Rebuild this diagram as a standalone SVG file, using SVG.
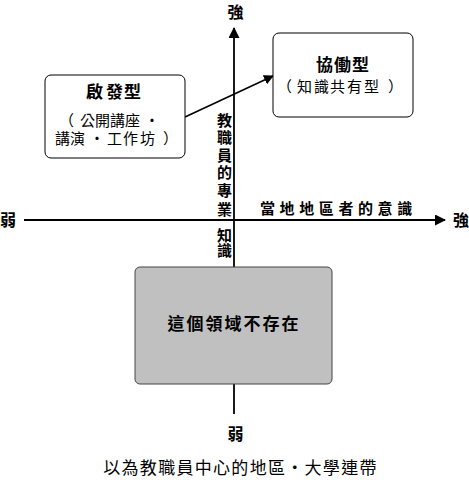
<svg xmlns="http://www.w3.org/2000/svg" width="469" height="480" viewBox="0 0 469 480">
<style>
text{font-family:"Noto Sans CJK TC","Noto Sans CJK JP",sans-serif;fill:#000;}
.b{font-weight:bold;}
.box{fill:#fff;stroke:#000;stroke-width:1;}
.ax{stroke:#000;stroke-width:1.8;fill:none;}
.m{text-anchor:middle;}
</style>
<defs>
<marker id="ah" markerWidth="10" markerHeight="10" refX="9" refY="5" orient="auto" markerUnits="userSpaceOnUse"><path d="M0,0 L10,5 L0,10 z" fill="#000"/></marker>
<marker id="ah2" markerWidth="11" markerHeight="11" refX="10" refY="5.5" orient="auto" markerUnits="userSpaceOnUse"><path d="M0,0 L11,5.5 L0,11 z" fill="#000"/></marker>
</defs>
<g id="connectors">
<line class="ax" x1="234" y1="414" x2="234" y2="28" marker-end="url(#ah2)"/>
<line class="ax" x1="24" y1="220" x2="445" y2="220" marker-end="url(#ah2)"/>
<line x1="185" y1="117" x2="273" y2="76" stroke="#000" stroke-width="1.5" marker-end="url(#ah)"/>
</g>
<g id="labels">
<text class="b m" x="235.5" y="17.5" font-size="16">強</text>
<text class="b m" x="235.5" y="439.5" font-size="16">弱</text>
<text class="b" x="0" y="226" font-size="16">弱</text>
<text class="b" x="453" y="226" font-size="16">強</text>
<text class="b" x="260" y="214" font-size="15" letter-spacing="4.6">當地地區者的意識</text>
<text class="b m" font-size="15" x="224.5 224.5 224.5 224.5 224.5 224.5" y="126 143 161 178 196 215">教職員的專業</text>
<text class="b m" font-size="15" x="224.5 224.5" y="241 256">知識</text>
<text class="m" x="240.5" y="474" font-size="17" letter-spacing="1.3">以為教職員中心的地區・大學連帶</text>
</g>
<g id="kyodo">
<rect class="box" x="273" y="33" width="140" height="84" rx="6"/>
<text class="b" x="316 334 352" y="71" font-size="17">協働型</text>
<text x="277 297 314 330 347 364 388" y="91.5" font-size="15">（知識共有型）</text>
</g>
<g id="keihatsu">
<rect class="box" x="45" y="75" width="140" height="83" rx="6"/>
<text class="b" x="86 106 124" y="98" font-size="17">啟發型</text>
<text font-size="15" x="59 80 95 110 125 144.5 55 70 89.5 107 123 140 163" y="126 126 126 126 126 126 144 144 144 144 144 144 144">（公開講座・講演・工作坊）</text>
</g>
<g id="none">
<rect x="135" y="267" width="197" height="117" rx="5" fill="#c0c0c0" stroke="#444" stroke-width="1"/>
<text class="b m" x="234" y="330" font-size="17" letter-spacing="2">這個領域不存在</text>
</g>
</svg>
